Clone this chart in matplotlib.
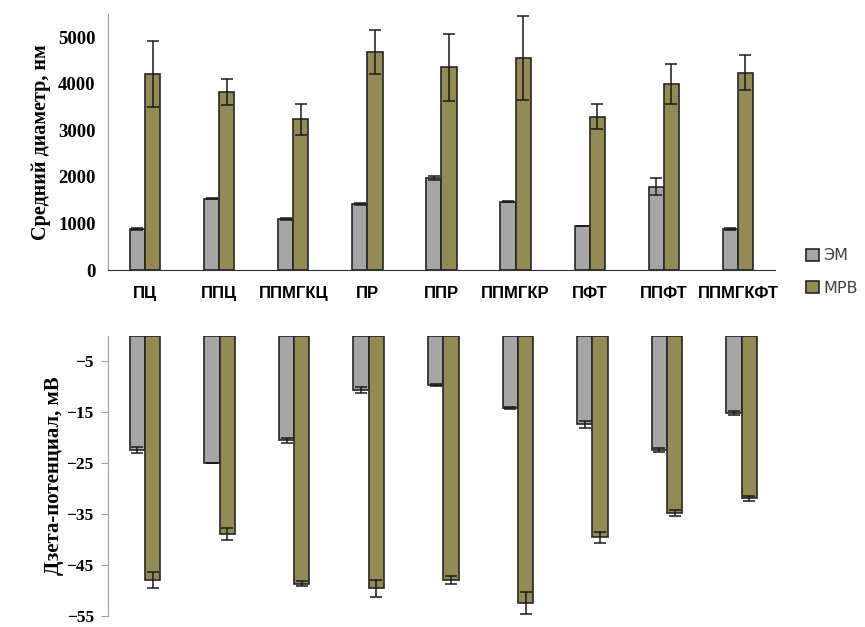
import numpy as np
import matplotlib.pyplot as plt
from matplotlib import font_manager

samples = ["ПЦ", "ППЦ", "ППМГКЦ", "ПР", "ППР", "ППМГКР", "ПФТ", "ППФТ", "ППМГКФТ"]

# mean diameter, nm
size_em = [880, 1535, 1095, 1420, 1970, 1470, 940, 1790, 880]
size_em_err = [20, 15, 15, 20, 45, 10, 0, 180, 20]
size_mrv = [4210, 3830, 3240, 4675, 4350, 4560, 3290, 4000, 4240]
size_mrv_err = [705, 280, 335, 470, 720, 900, 265, 430, 385]

# zeta potential, mV
zeta_em = [-22.4, -25.0, -20.5, -10.6, -9.7, -14.2, -17.4, -22.4, -15.1]
zeta_em_err = [0.5, 0.0, 0.5, 0.55, 0.15, 0.25, 0.75, 0.35, 0.4]
zeta_mrv = [-47.9, -38.8, -48.6, -49.5, -47.9, -52.4, -39.5, -34.8, -31.9]
zeta_mrv_err = [1.5, 1.2, 0.5, 1.7, 0.75, 2.1, 1.05, 0.6, 0.4]

c_em = "#a6a6a6"
c_mrv = "#948a54"
edge = "#262626"
serif = ["Liberation Serif", "DejaVu Serif"]

installed = {f.name for f in font_manager.fontManager.ttflist}
narrow = "Liberation Sans Narrow" if "Liberation Sans Narrow" in installed else "Liberation Sans"

x = np.arange(len(samples))
w = 0.205

fig = plt.figure(figsize=(8.65, 6.27), dpi=100)
ax1 = fig.add_axes([0.1249, 0.569, 0.771, 0.409])
ax2 = fig.add_axes([0.1245, 0.017, 0.776, 0.4476])

bar_kw = dict(width=w, edgecolor=edge, linewidth=1.2)
err_kw = dict(ecolor="#1a1a1a", elinewidth=1.1, capsize=4, capthick=1.1)

b1 = ax1.bar(x - w / 2, size_em, color=c_em, yerr=size_em_err, error_kw=err_kw, label="ЭМ", **bar_kw)
b2 = ax1.bar(x + w / 2, size_mrv, color=c_mrv, yerr=size_mrv_err, error_kw=err_kw, label="МРВ", **bar_kw)
ax1.set_xlim(-0.5, len(samples) - 0.5)
ax1.set_ylim(0, 5500)
ax1.set_yticks(range(0, 5001, 1000))
ax1.set_xticks(x)
ax1.set_xticklabels(samples, fontweight="bold", fontsize=12, family=narrow)
ax1.tick_params(axis="x", length=0, pad=11)
ax1.tick_params(axis="y", length=0, pad=9)
for lab in ax1.get_yticklabels():
    lab.set_family(serif)
    lab.set_fontweight("bold")
    lab.set_fontsize(13.5)
ax1.set_ylabel("Средний диаметр, нм", family=serif, fontweight="bold", fontsize=14.5, labelpad=5)
for s in ["top", "right"]:
    ax1.spines[s].set_visible(False)
ax1.spines["left"].set_color("#a0a0a0")
ax1.spines["bottom"].set_color("#303030")

ax2.bar(x - w / 2, zeta_em, color=c_em, yerr=zeta_em_err, error_kw=err_kw, **bar_kw)
ax2.bar(x + w / 2, zeta_mrv, color=c_mrv, yerr=zeta_mrv_err, error_kw=err_kw, **bar_kw)
ax2.set_xlim(-0.5, len(samples) - 0.5)
ax2.set_ylim(-55, 0)
ax2.set_yticks([-5, -15, -25, -35, -45, -55])
ax2.set_xticks([])
ax2.tick_params(axis="y", length=5, color="#a0a0a0", pad=5)
for lab in ax2.get_yticklabels():
    lab.set_family(serif)
    lab.set_fontweight("bold")
    lab.set_fontsize(12.5)
ax2.set_ylabel("Дзета-потенциал, мВ", family=serif, fontweight="bold", fontsize=15, labelpad=2)
for s in ["top", "right", "bottom"]:
    ax2.spines[s].set_visible(False)
ax2.spines["left"].set_color("#a0a0a0")

fig.legend(handles=[b1, b2], labels=["ЭМ", "МРВ"], loc="center left",
           bbox_to_anchor=(0.915, 0.566), frameon=False, fontsize=11.5,
           labelcolor="#404040", handlelength=0.8, handleheight=0.8,
           handletextpad=0.3, labelspacing=1.1)

fig.savefig("out.png", dpi=100)
